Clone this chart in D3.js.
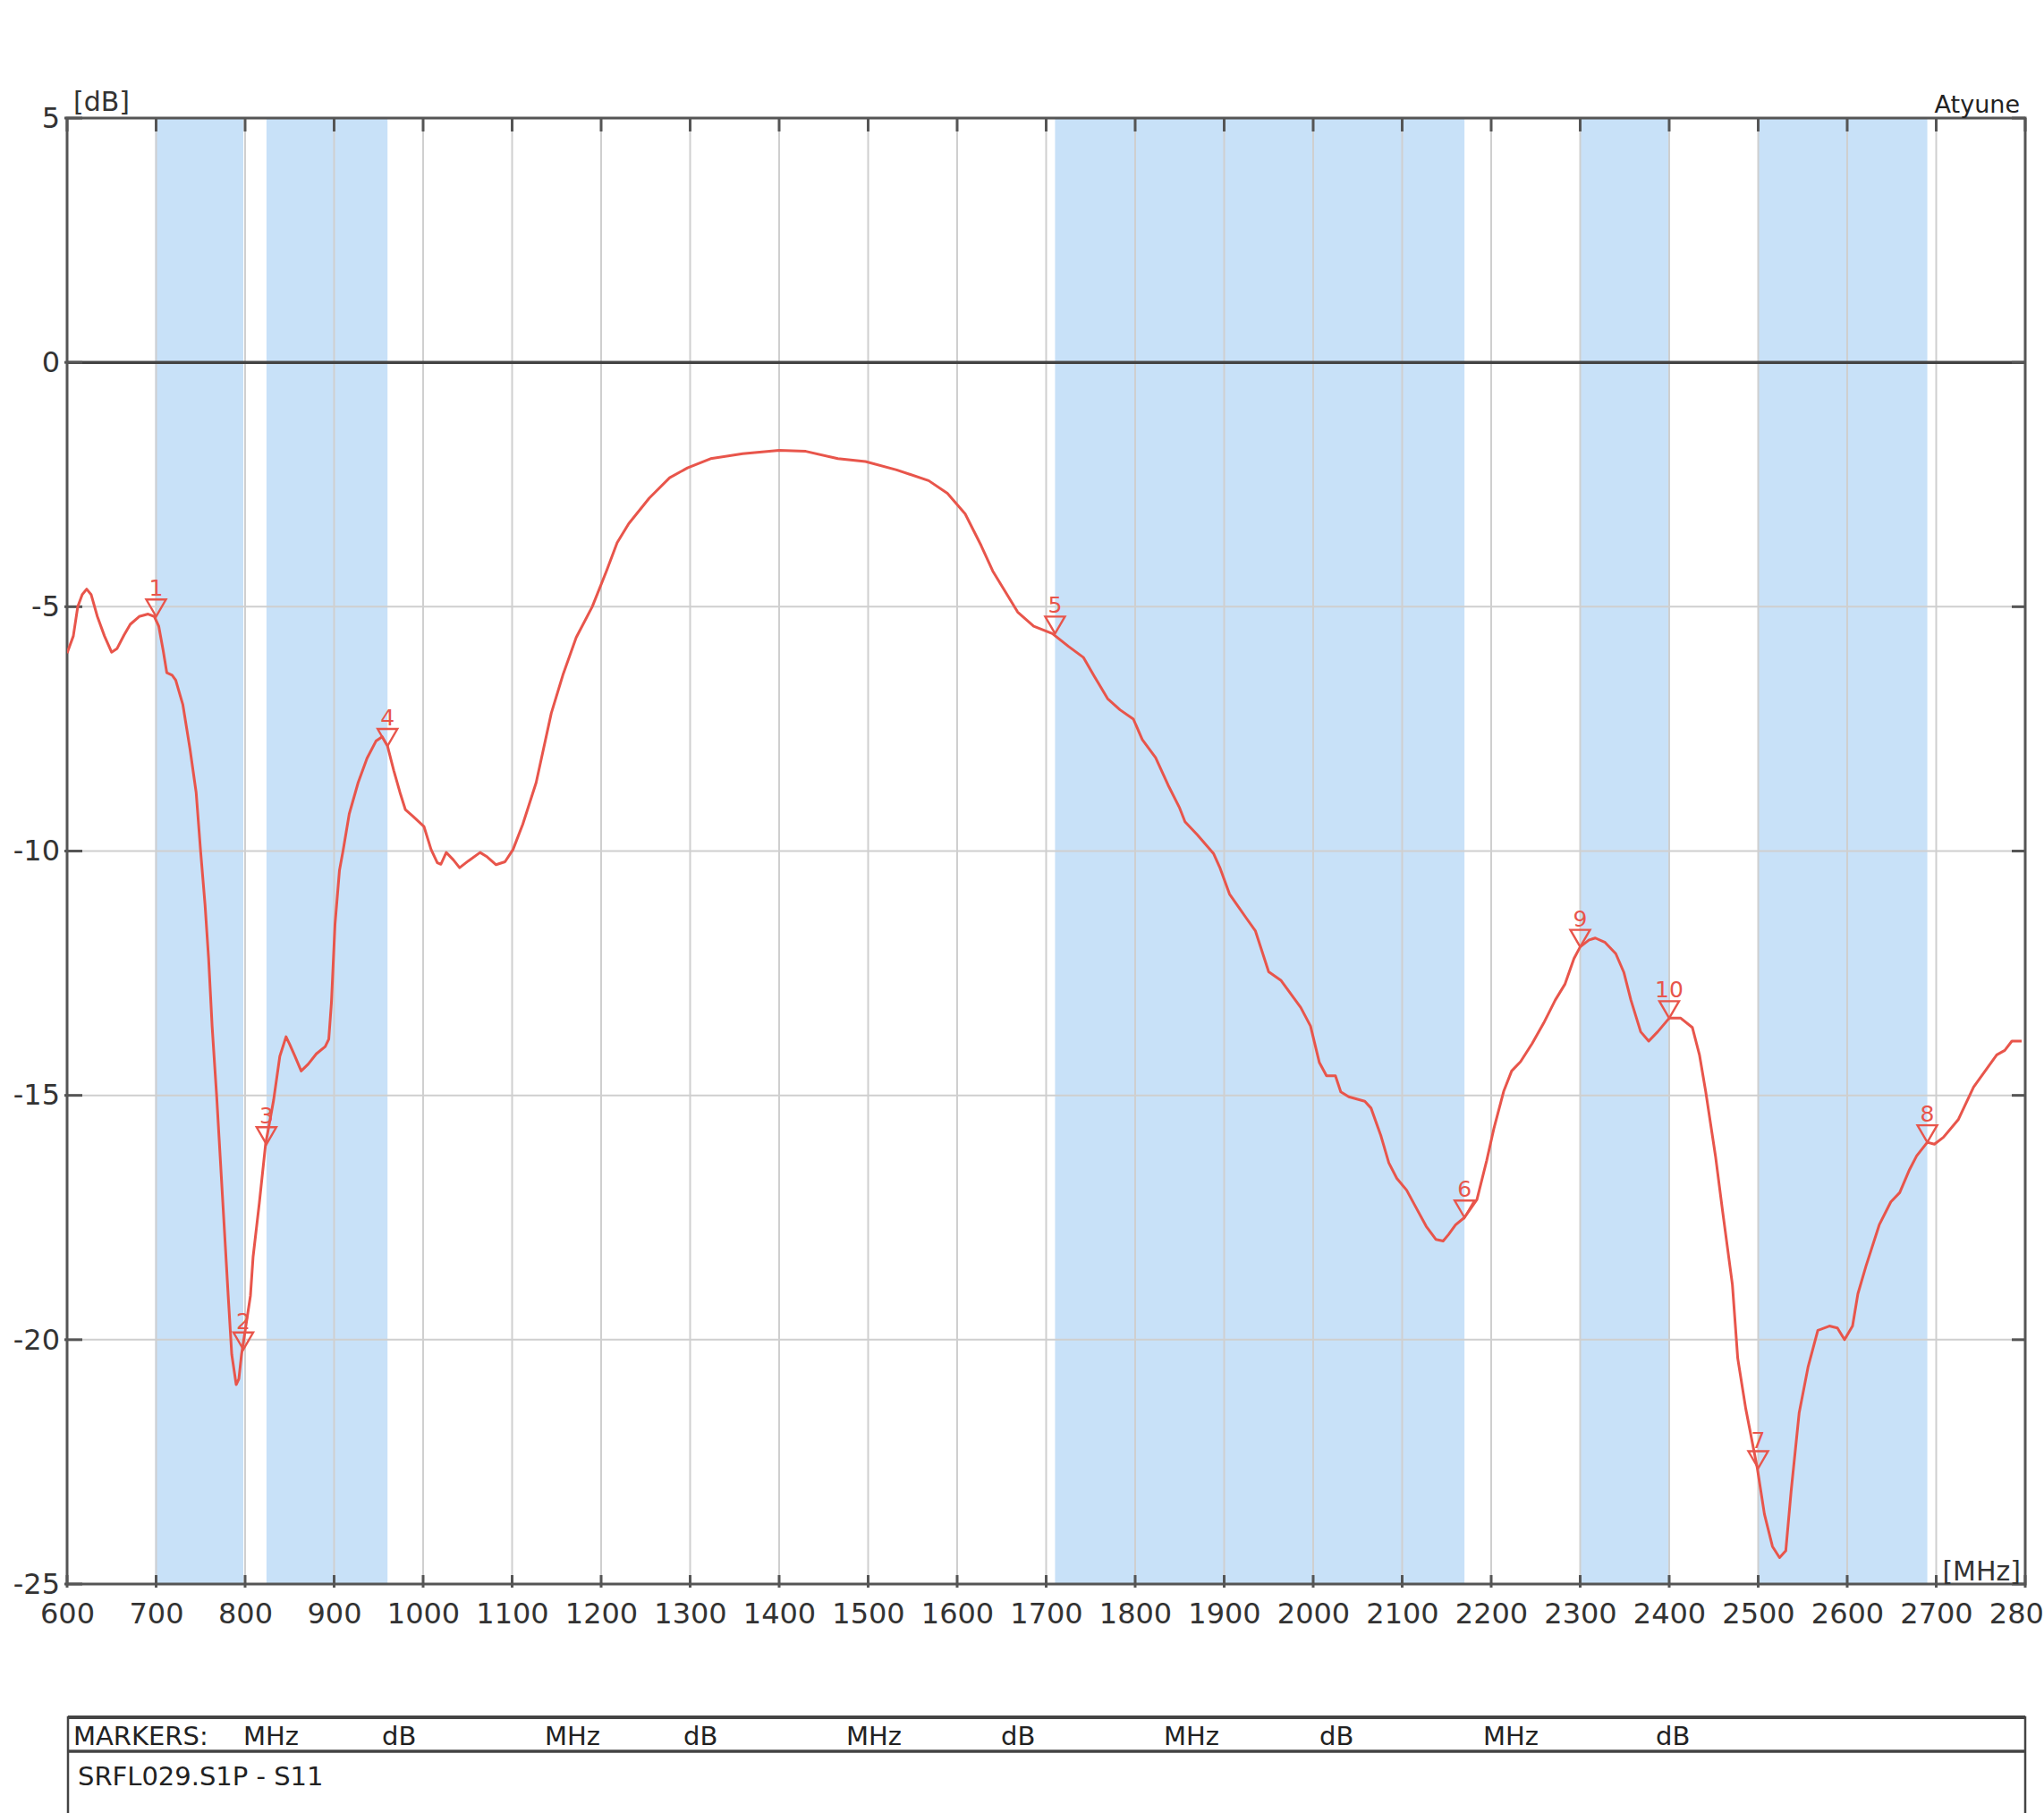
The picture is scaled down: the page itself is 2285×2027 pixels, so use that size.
<!DOCTYPE html>
<html>
<head>
<meta charset="utf-8">
<script src="https://cdn.jsdelivr.net/npm/d3@7"></script>
<style>
  html, body { margin: 0; padding: 0; background: #fff; }
  svg { display: block; font-family: "DejaVu Sans", Verdana, sans-serif; }
</style>
</head>
<body>
<script>
// ---------- data ----------
const freqMHz = [600,603,607,612,617,622,627,634,642,650,656,664,671,681,691,698,703,708,712,718,722,730,738,745,750,755,759,763,768,775,781,785,790,793,796,801,806,809,816,823,832,839,846,850,856,863,871,880,890,894,897,901,906,910,917,927,937,947,954,960,967,974,980,988,1001,1009,1016,1020,1026,1034,1041,1051,1064,1072,1082,1092,1101,1112,1127,1144,1157,1172,1190,1206,1218,1231,1254,1277,1297,1323,1359,1400,1430,1466,1497,1532,1568,1589,1609,1627,1640,1655,1668,1686,1707,1725,1742,1754,1769,1783,1798,1808,1823,1837,1850,1856,1870,1888,1895,1906,1924,1935,1950,1964,1986,1997,2007,2015,2025,2031,2040,2058,2065,2076,2085,2094,2105,2116,2127,2138,2146,2152,2160,2170,2184,2195,2203,2214,2223,2233,2246,2259,2272,2283,2293,2300,2310,2317,2328,2340,2349,2357,2368,2377,2387,2400,2413,2426,2434,2441,2452,2460,2471,2477,2486,2499,2507,2516,2524,2531,2537,2546,2556,2567,2580,2589,2597,2606,2612,2621,2636,2649,2659,2670,2678,2690,2698,2708,2725,2742,2755,2768,2777,2785,2796];
const s11dB = [-5.95,-5.8,-5.6,-5.0,-4.75,-4.64,-4.75,-5.2,-5.6,-5.93,-5.86,-5.58,-5.36,-5.2,-5.15,-5.2,-5.4,-5.9,-6.35,-6.4,-6.5,-7.0,-7.9,-8.8,-10.0,-11.1,-12.2,-13.6,-15.0,-17.2,-19.1,-20.3,-20.92,-20.8,-20.3,-19.7,-19.1,-18.3,-17.2,-16.0,-15.1,-14.2,-13.8,-13.95,-14.2,-14.5,-14.36,-14.15,-14.0,-13.85,-13.1,-11.5,-10.4,-10.0,-9.24,-8.6,-8.1,-7.75,-7.66,-7.85,-8.35,-8.8,-9.15,-9.28,-9.5,-9.97,-10.24,-10.27,-10.03,-10.18,-10.34,-10.2,-10.03,-10.12,-10.28,-10.22,-9.97,-9.45,-8.6,-7.18,-6.4,-5.63,-5.0,-4.27,-3.69,-3.3,-2.78,-2.36,-2.16,-1.97,-1.87,-1.8,-1.82,-1.97,-2.03,-2.2,-2.42,-2.68,-3.1,-3.75,-4.27,-4.72,-5.11,-5.4,-5.55,-5.81,-6.04,-6.42,-6.88,-7.11,-7.3,-7.72,-8.09,-8.65,-9.12,-9.4,-9.67,-10.05,-10.33,-10.88,-11.35,-11.63,-12.47,-12.65,-13.2,-13.58,-14.33,-14.6,-14.6,-14.93,-15.03,-15.12,-15.26,-15.82,-16.38,-16.7,-16.94,-17.31,-17.68,-17.95,-17.98,-17.85,-17.65,-17.5,-17.13,-16.33,-15.68,-14.92,-14.5,-14.31,-13.94,-13.52,-13.05,-12.72,-12.2,-11.96,-11.82,-11.78,-11.87,-12.1,-12.48,-13.05,-13.7,-13.89,-13.7,-13.42,-13.42,-13.61,-14.17,-14.92,-16.24,-17.37,-18.87,-20.38,-21.41,-22.63,-23.57,-24.23,-24.46,-24.32,-23.1,-21.5,-20.56,-19.81,-19.72,-19.76,-20.0,-19.72,-19.06,-18.5,-17.65,-17.18,-16.99,-16.52,-16.24,-15.96,-16.0,-15.86,-15.49,-14.83,-14.5,-14.17,-14.08,-13.89,-13.89];

const bandStart = [699, 824, 1710, 2300, 2500];
const bandEnd   = [798, 960, 2170, 2400, 2690];

const markerIds  = [1, 2, 3, 4, 5, 6, 9, 10, 7, 8];
const markerFreq = [700, 798, 824, 960, 1710, 2170, 2300, 2400, 2500, 2690];
const markerDb   = [-5.2, -20.2, -16.0, -7.85, -5.55, -17.5, -11.96, -13.42, -22.63, -15.96];

const xTickValues = d3.range(600, 2801, 100);
const yTickValues = [5, 0, -5, -10, -15, -20, -25];
const yTickLabels = ["5", "0", "-5", "-10", "-15", "-20", "-25"];

const tableHeader = ["MARKERS:", "MHz", "dB", "MHz", "dB", "MHz", "dB", "MHz", "dB", "MHz", "dB"];
const tableHeaderX = [82, 272, 427, 609, 764, 946, 1119, 1301, 1475, 1658, 1851];
const traceName = "SRFL029.S1P - S11";

// ---------- layout ----------
const W = 2285, H = 2027;
const plotL = 75, plotR = 2264, plotT = 132, plotB = 1771;
const red = "#e8554b", blue = "#c8e1f8", grid = "#cfcfcf", axisC = "#555";

const svg = d3.select("body").append("svg").attr("width", W).attr("height", H);
svg.append("rect").attr("width", W).attr("height", H).attr("fill", "#fff");

const x = d3.scaleLinear().domain([600, 2800]).range([plotL, plotR]);
const y = d3.scaleLinear().domain([5, -25]).range([plotT, plotB]);

svg.append("clipPath").attr("id", "plotclip").append("rect")
  .attr("x", plotL).attr("y", plotT).attr("width", plotR - plotL).attr("height", plotB - plotT);

// bands
svg.append("g").selectAll("rect").data(bandStart).join("rect")
  .attr("x", (d) => x(d)).attr("y", plotT)
  .attr("width", (d, i) => x(bandEnd[i]) - x(d)).attr("height", plotB - plotT)
  .attr("fill", blue);

// grid
const g = svg.append("g");
g.selectAll("line.v").data(xTickValues.filter(v => v > 600 && v < 2800)).join("line")
  .attr("x1", d => x(d)).attr("x2", d => x(d)).attr("y1", plotT).attr("y2", plotB)
  .attr("stroke", grid).attr("stroke-width", 2);
g.selectAll("line.h").data(yTickValues.filter(v => v !== 0 && v !== 5 && v !== -25)).join("line")
  .attr("x1", plotL).attr("x2", plotR).attr("y1", d => y(d)).attr("y2", d => y(d))
  .attr("stroke", grid).attr("stroke-width", 2);
// zero line
g.append("line").attr("x1", plotL).attr("x2", plotR).attr("y1", y(0)).attr("y2", y(0))
  .attr("stroke", "#444").attr("stroke-width", 3.5);

// axes with d3 axis generators
const bottomAxis = d3.axisBottom(x).tickValues(xTickValues).tickSize(0).tickPadding(30)
  .tickFormat(d3.format("d"));
const bax = svg.append("g").attr("transform", `translate(0,${plotB})`).call(bottomAxis);
bax.select(".domain").remove();
bax.selectAll("text").attr("font-size", 32).attr("fill", "#333")
  .attr("font-family", "DejaVu Sans, sans-serif").attr("dy", "0.45em");

const leftAxis = d3.axisLeft(y).tickValues(yTickValues).tickSize(0).tickPadding(6)
  .tickFormat((d, i) => yTickLabels[i]);
const lax = svg.append("g").attr("transform", `translate(${plotL - 2},0)`).call(leftAxis);
lax.select(".domain").remove();
lax.selectAll("text").attr("font-size", 32).attr("fill", "#333")
  .attr("font-family", "DejaVu Sans, sans-serif");

// tick marks
const tk = svg.append("g").attr("stroke", axisC).attr("stroke-width", 3);
tk.selectAll("line.top").data(xTickValues).join("line")
  .attr("x1", d => x(d)).attr("x2", d => x(d)).attr("y1", plotT).attr("y2", plotT + 15);
tk.selectAll("line.bot").data(xTickValues).join("line")
  .attr("x1", d => x(d)).attr("x2", d => x(d)).attr("y1", plotB + 4).attr("y2", plotB - 10);
tk.selectAll("line.lt").data(yTickValues).join("line")
  .attr("x1", plotL - 3).attr("x2", plotL + 17).attr("y1", d => y(d)).attr("y2", d => y(d));
tk.selectAll("line.rt").data(yTickValues).join("line")
  .attr("x1", plotR - 15).attr("x2", plotR).attr("y1", d => y(d)).attr("y2", d => y(d));

// frame
svg.append("rect").attr("x", plotL).attr("y", plotT)
  .attr("width", plotR - plotL).attr("height", plotB - plotT)
  .attr("fill", "none").attr("stroke", axisC).attr("stroke-width", 3);

// trace
const line = d3.line().x(d => x(d[0])).y(d => y(d[1]));
svg.append("path").datum(freqMHz.map((f, i) => [f, s11dB[i]]))
  .attr("clip-path", "url(#plotclip)")
  .attr("d", line).attr("fill", "none").attr("stroke", red)
  .attr("stroke-width", 3).attr("stroke-linejoin", "round");

// markers
const mk = svg.append("g").selectAll("g").data(markerIds).join("g")
  .attr("transform", (d, i) => `translate(${x(markerFreq[i])},${y(markerDb[i])})`);
mk.append("path").attr("d", "M0,0 L-11,-19 L11,-19 Z")
  .attr("fill", "none").attr("stroke", red).attr("stroke-width", 2.4);
mk.append("text").attr("x", 0).attr("y", -23).attr("text-anchor", "middle")
  .attr("font-size", 25).attr("fill", red).text(d => d);

// axis unit labels
svg.append("text").attr("x", 82).attr("y", 124).attr("font-size", 30).attr("fill", "#333").text("[dB]");
svg.append("text").attr("x", 2258).attr("y", 126).attr("text-anchor", "end")
  .attr("font-size", 27).attr("fill", "#222").text("Atyune");
svg.append("text").attr("x", 2259).attr("y", 1767).attr("text-anchor", "end")
  .attr("font-size", 30).attr("fill", "#333").text("[MHz]");

// markers table
const tb = svg.append("g");
tb.append("rect").attr("x", 76).attr("y", 1920).attr("width", plotR - 76).attr("height", 200)
  .attr("fill", "none").attr("stroke", "#444").attr("stroke-width", 2.5);
tb.append("line").attr("x1", 76).attr("x2", plotR).attr("y1", 1920).attr("y2", 1920)
  .attr("stroke", "#444").attr("stroke-width", 4);
tb.append("line").attr("x1", 76).attr("x2", plotR).attr("y1", 1958).attr("y2", 1958)
  .attr("stroke", "#444").attr("stroke-width", 3.5);
tb.selectAll("text.h").data(tableHeader).join("text")
  .attr("x", (d, i) => tableHeaderX[i]).attr("y", 1951)
  .attr("font-size", 29).attr("fill", "#222").text(d => d);
tb.append("text").attr("x", 87).attr("y", 1996).attr("font-size", 29).attr("fill", "#222").text(traceName);
</script>
</body>
</html>
